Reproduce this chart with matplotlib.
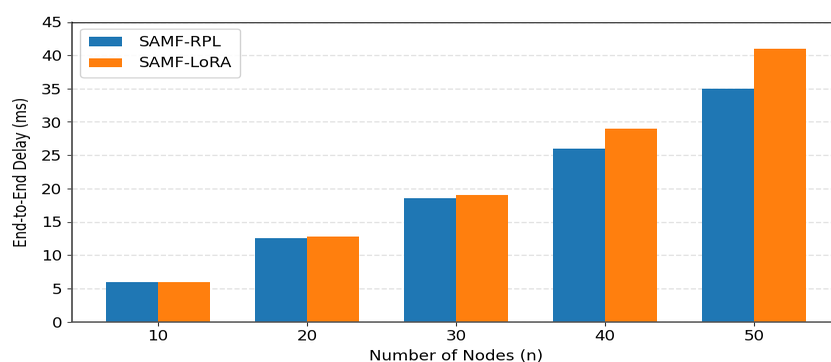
import io
import numpy as np
import matplotlib
matplotlib.use("Agg")
import matplotlib.pyplot as plt
from PIL import Image

nodes = [10, 20, 30, 40, 50]
delay_rpl = [6, 12.5, 18.5, 26, 35]
delay_lora = [6, 12.8, 19, 29, 41]

width = 3.5
x = np.array(nodes)

# drawn taller, then squeezed down to the final 831x362 size
W, H = 831, 453
fig = plt.figure(figsize=(W / 100, H / 100), dpi=100)
ax = fig.add_axes([72 / W, (H - 402.5) / H, 768 / W, 375 / H])

ax.bar(x - width / 2, delay_rpl, width, label="SAMF-RPL", color="#1f77b4")
ax.bar(x + width / 2, delay_lora, width, label="SAMF-LoRA", color="#ff7f0e")

ax.set_xlim(4.23, 55.77)
ax.set_ylim(0, 45)
ax.set_xticks(nodes)
ax.set_yticks(range(0, 46, 5))
ax.tick_params(labelsize=12, colors="#333333", labelcolor="black")
ax.set_xlabel("Number of Nodes (n)", fontsize=12, labelpad=5)
ax.set_ylabel("End-to-End Delay (ms)", fontsize=12, labelpad=7.5)
ax.yaxis.grid(True, linestyle="--", color="#dddddd", linewidth=1.0)
ax.set_axisbelow(True)
ax.spines["right"].set_visible(False)
for side in ("left", "bottom"):
    ax.spines[side].set_color("#555555")
    ax.spines[side].set_linewidth(1.3)

ax.legend(loc="upper left", fontsize=12, handlelength=2.0, handletextpad=1.0,
          borderpad=0.5, framealpha=0.9)

buf = io.BytesIO()
fig.savefig(buf, format="png", dpi=100)
buf.seek(0)
Image.open(buf).convert("RGB").resize((831, 362), Image.LANCZOS).save("out.png")
